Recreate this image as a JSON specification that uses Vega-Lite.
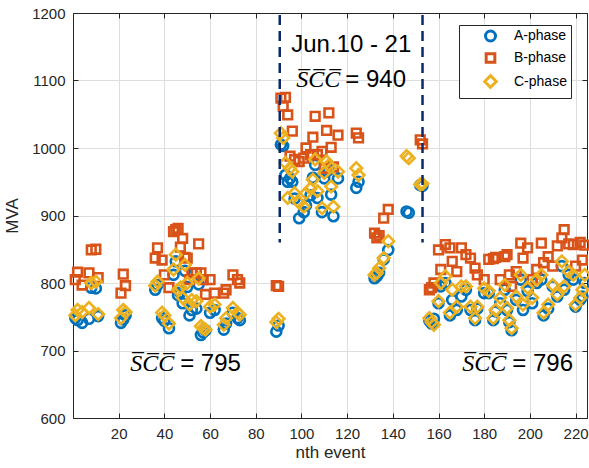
{
  "$schema": "https://vega.github.io/schema/vega-lite/v6.json",
  "width": 514,
  "height": 405,
  "autosize": "none",
  "padding": {"left": 73, "top": 13, "right": 2, "bottom": 50},
  "background": "white",
  "config": {
    "font": "Liberation Sans",
    "view": {"stroke": "#262626", "strokeWidth": 1}
  },
  "layer": [
    {
      "data": {
        "values": [
          {"n": 1, "A-phase": 748, "B-phase": 805, "C-phase": 752},
          {"n": 2, "A-phase": 745, "B-phase": 816, "C-phase": 760},
          {"n": 4, "A-phase": 741, "B-phase": 797, "C-phase": 757},
          {"n": 7, "A-phase": 747, "B-phase": 815, "C-phase": 763},
          {"n": 8, "A-phase": 793, "B-phase": 849, "C-phase": 800},
          {"n": 10, "A-phase": 792, "B-phase": 850, "C-phase": 802},
          {"n": 11, "A-phase": 751, "B-phase": 808, "C-phase": 754},
          {"n": 21, "A-phase": 741, "B-phase": 785, "C-phase": 748},
          {"n": 22, "A-phase": 746, "B-phase": 813, "C-phase": 760},
          {"n": 23, "A-phase": 752, "B-phase": 796, "C-phase": 757},
          {"n": 36, "A-phase": 790, "B-phase": 837, "C-phase": 796},
          {"n": 37, "A-phase": 797, "B-phase": 852, "C-phase": 802},
          {"n": 39, "A-phase": 748, "B-phase": 834, "C-phase": 756},
          {"n": 40, "A-phase": 744, "B-phase": 812, "C-phase": 752},
          {"n": 42, "A-phase": 733, "B-phase": 793, "C-phase": 740},
          {"n": 44, "A-phase": 812, "B-phase": 876, "C-phase": 820},
          {"n": 45, "A-phase": 832, "B-phase": 879, "C-phase": 842},
          {"n": 46, "A-phase": 782, "B-phase": 881, "C-phase": 790},
          {"n": 47, "A-phase": 786, "B-phase": 853, "C-phase": 793},
          {"n": 48, "A-phase": 770, "B-phase": 866, "C-phase": 778},
          {"n": 49, "A-phase": 818, "B-phase": 838, "C-phase": 827},
          {"n": 50, "A-phase": 794, "B-phase": 837, "C-phase": 800},
          {"n": 51, "A-phase": 752, "B-phase": 805, "C-phase": 768},
          {"n": 52, "A-phase": 760, "B-phase": 815, "C-phase": 775},
          {"n": 54, "A-phase": 762, "B-phase": 815, "C-phase": 773},
          {"n": 55, "A-phase": 798, "B-phase": 858, "C-phase": 807},
          {"n": 56, "A-phase": 723, "B-phase": 815, "C-phase": 736},
          {"n": 57, "A-phase": 727, "B-phase": 805, "C-phase": 733},
          {"n": 58, "A-phase": 730, "B-phase": 783, "C-phase": 731},
          {"n": 60, "A-phase": 756, "B-phase": 805, "C-phase": 765},
          {"n": 62, "A-phase": 760, "B-phase": 785, "C-phase": 768},
          {"n": 66, "A-phase": 731, "B-phase": 785, "C-phase": 738},
          {"n": 67, "A-phase": 740, "B-phase": 790, "C-phase": 748},
          {"n": 70, "A-phase": 756, "B-phase": 812, "C-phase": 763},
          {"n": 72, "A-phase": 748, "B-phase": 805, "C-phase": 756},
          {"n": 73, "A-phase": 745, "B-phase": 800, "C-phase": 753},
          {"n": 89, "A-phase": 728, "B-phase": 796, "C-phase": 742},
          {"n": 90, "A-phase": 737, "B-phase": 795, "C-phase": 747},
          {"n": 91, "A-phase": 1005, "B-phase": 1074, "C-phase": 1022},
          {"n": 92, "A-phase": 1003, "B-phase": 1062, "C-phase": 1015},
          {"n": 93, "A-phase": 960, "B-phase": 1075, "C-phase": 978},
          {"n": 94, "A-phase": 950, "B-phase": 1049, "C-phase": 926},
          {"n": 95, "A-phase": 955, "B-phase": 988, "C-phase": 970},
          {"n": 96, "A-phase": 950, "B-phase": 1025, "C-phase": 965},
          {"n": 97, "A-phase": 925, "B-phase": 983, "C-phase": 933},
          {"n": 99, "A-phase": 896, "B-phase": 980, "C-phase": 919},
          {"n": 101, "A-phase": 905, "B-phase": 985, "C-phase": 913},
          {"n": 102, "A-phase": 915, "B-phase": 1000, "C-phase": 933},
          {"n": 104, "A-phase": 930, "B-phase": 990, "C-phase": 940},
          {"n": 105, "A-phase": 956, "B-phase": 1016, "C-phase": 953},
          {"n": 106, "A-phase": 975, "B-phase": 1047, "C-phase": 983},
          {"n": 107, "A-phase": 926, "B-phase": 990, "C-phase": 936},
          {"n": 109, "A-phase": 905, "B-phase": 995, "C-phase": 911},
          {"n": 110, "A-phase": 955, "B-phase": 970, "C-phase": 963},
          {"n": 111, "A-phase": 965, "B-phase": 1026, "C-phase": 980},
          {"n": 112, "A-phase": 968, "B-phase": 1052, "C-phase": 975},
          {"n": 113, "A-phase": 931, "B-phase": 1001, "C-phase": 943},
          {"n": 114, "A-phase": 899, "B-phase": 972, "C-phase": 913},
          {"n": 116, "A-phase": 955, "B-phase": 1019, "C-phase": 965},
          {"n": 124, "A-phase": 941, "B-phase": 1022, "C-phase": 970},
          {"n": 125, "A-phase": 950, "B-phase": 1015, "C-phase": 960},
          {"n": 132, "A-phase": 807, "B-phase": 874, "C-phase": 812},
          {"n": 133, "A-phase": 810, "B-phase": 867, "C-phase": 815},
          {"n": 134, "A-phase": 815, "B-phase": 870, "C-phase": 822},
          {"n": 136, "A-phase": 835, "B-phase": 896, "C-phase": 837},
          {"n": 138, "A-phase": 849, "B-phase": 909, "C-phase": 862},
          {"n": 146, "A-phase": 906, "B-phase": null, "C-phase": 988},
          {"n": 147, "A-phase": 904, "B-phase": null, "C-phase": 985},
          {"n": 152, "A-phase": 945, "B-phase": 1012, "C-phase": 946},
          {"n": 153, "A-phase": 944, "B-phase": 1006, "C-phase": 947},
          {"n": 156, "A-phase": 744, "B-phase": 790, "C-phase": 748},
          {"n": 157, "A-phase": 740, "B-phase": 793, "C-phase": 742},
          {"n": 158, "A-phase": 747, "B-phase": 800, "C-phase": 738},
          {"n": 160, "A-phase": 770, "B-phase": 849, "C-phase": 773},
          {"n": 161, "A-phase": 795, "B-phase": 820, "C-phase": 800},
          {"n": 163, "A-phase": 800, "B-phase": 857, "C-phase": 810},
          {"n": 165, "A-phase": 752, "B-phase": 852, "C-phase": 756},
          {"n": 166, "A-phase": 775, "B-phase": 832, "C-phase": 790},
          {"n": 168, "A-phase": 760, "B-phase": 817, "C-phase": 765},
          {"n": 170, "A-phase": 780, "B-phase": 852, "C-phase": 795},
          {"n": 172, "A-phase": 790, "B-phase": 842, "C-phase": 795},
          {"n": 174, "A-phase": 760, "B-phase": 837, "C-phase": 765},
          {"n": 176, "A-phase": 745, "B-phase": 822, "C-phase": 748},
          {"n": 177, "A-phase": 762, "B-phase": 812, "C-phase": 765},
          {"n": 180, "A-phase": 785, "B-phase": 805, "C-phase": 792},
          {"n": 182, "A-phase": 785, "B-phase": 835, "C-phase": 788},
          {"n": 184, "A-phase": 745, "B-phase": 836, "C-phase": 748},
          {"n": 185, "A-phase": 758, "B-phase": 838, "C-phase": 760},
          {"n": 187, "A-phase": 770, "B-phase": 805, "C-phase": 778},
          {"n": 189, "A-phase": 790, "B-phase": 839, "C-phase": 797},
          {"n": 190, "A-phase": 760, "B-phase": 842, "C-phase": 763},
          {"n": 191, "A-phase": 742, "B-phase": 812, "C-phase": 745},
          {"n": 192, "A-phase": 730, "B-phase": 795, "C-phase": 733},
          {"n": 194, "A-phase": 775, "B-phase": 817, "C-phase": 780},
          {"n": 196, "A-phase": 805, "B-phase": 859, "C-phase": 812},
          {"n": 197, "A-phase": 760, "B-phase": 837, "C-phase": 768},
          {"n": 199, "A-phase": 788, "B-phase": 852, "C-phase": 793},
          {"n": 201, "A-phase": 770, "B-phase": 805, "C-phase": 778},
          {"n": 203, "A-phase": 800, "B-phase": 820, "C-phase": 805},
          {"n": 205, "A-phase": 805, "B-phase": 859, "C-phase": 812},
          {"n": 206, "A-phase": 752, "B-phase": 830, "C-phase": 756},
          {"n": 208, "A-phase": 762, "B-phase": 839, "C-phase": 768},
          {"n": 210, "A-phase": 795, "B-phase": 825, "C-phase": 797},
          {"n": 212, "A-phase": 780, "B-phase": 855, "C-phase": 783},
          {"n": 214, "A-phase": 825, "B-phase": 867, "C-phase": 832},
          {"n": 215, "A-phase": 790, "B-phase": 879, "C-phase": 795},
          {"n": 217, "A-phase": 812, "B-phase": 858, "C-phase": 817},
          {"n": 219, "A-phase": 805, "B-phase": 857, "C-phase": 812},
          {"n": 220, "A-phase": 765, "B-phase": 825, "C-phase": 768},
          {"n": 222, "A-phase": 775, "B-phase": 860, "C-phase": 778},
          {"n": 223, "A-phase": 780, "B-phase": 834, "C-phase": 790},
          {"n": 224, "A-phase": 800, "B-phase": 856, "C-phase": 812}
        ]
      },
      "transform": [
        {"fold": ["A-phase", "B-phase", "C-phase"], "as": ["phase", "MVA"]},
        {"filter": "datum.MVA != null"}
      ],
      "mark": {"type": "point", "filled": false, "strokeWidth": 2.6, "opacity": 1},
      "encoding": {
        "x": {
          "field": "n",
          "type": "quantitative",
          "scale": {"domain": [0, 225], "nice": false, "zero": false},
          "axis": {
            "orient": "bottom",
            "title": "nth event",
            "values": [20, 40, 60, 80, 100, 120, 140, 160, 180, 200, 220],
            "grid": true,
            "gridColor": "#dedede",
            "domainColor": "#262626",
            "tickColor": "#262626",
            "tickSize": -5,
            "labelPadding": 13,
            "labelFontSize": 15,
            "labelColor": "#262626",
            "titleFontSize": 17,
            "titleFontWeight": "normal",
            "titleColor": "#262626",
            "titlePadding": 3
          }
        },
        "y": {
          "field": "MVA",
          "type": "quantitative",
          "scale": {"domain": [600, 1200], "nice": false, "zero": false},
          "axis": {
            "orient": "left",
            "title": "MVA",
            "format": "d",
            "values": [600, 700, 800, 900, 1000, 1100, 1200],
            "grid": true,
            "gridColor": "#dedede",
            "domainColor": "#262626",
            "tickColor": "#262626",
            "tickSize": -5,
            "labelPadding": 13,
            "labelFontSize": 15,
            "labelColor": "#262626",
            "titleFontSize": 17,
            "titleFontWeight": "normal",
            "titleColor": "#262626",
            "titlePadding": 10
          }
        },
        "color": {
          "field": "phase",
          "type": "nominal",
          "scale": {"domain": ["A-phase", "B-phase", "C-phase"], "range": ["#0072BD", "#D95319", "#EDB120"]},
          "legend": {
            "orient": "none",
            "legendX": 386,
            "legendY": 12,
            "title": null,
            "strokeColor": "#262626",
            "fillColor": "white",
            "padding": 4,
            "labelFontSize": 14,
            "labelColor": "#000000",
            "symbolSize": 90,
            "symbolStrokeWidth": 3,
            "rowPadding": 0,
            "symbolOffset": 20,
            "labelOffset": 16
          }
        },
        "shape": {
          "field": "phase",
          "type": "nominal",
          "scale": {"domain": ["A-phase", "B-phase", "C-phase"], "range": ["circle", "square", "diamond"]},
          "legend": {
            "orient": "none",
            "legendX": 386,
            "legendY": 12,
            "title": null,
            "strokeColor": "#262626",
            "fillColor": "white",
            "padding": 4,
            "labelFontSize": 14,
            "labelColor": "#000000",
            "symbolSize": 90,
            "symbolStrokeWidth": 3,
            "rowPadding": 0,
            "symbolOffset": 20,
            "labelOffset": 16
          }
        },
        "size": {
          "field": "phase",
          "type": "nominal",
          "scale": {"type": "ordinal", "domain": ["A-phase", "B-phase", "C-phase"], "range": [100, 75, 135]},
          "legend": null
        },
        "order": {"field": "phase", "sort": "ascending"}
      }
    },
    {
      "data": {"values": [{"n": 90.5}, {"n": 153}]},
      "mark": {"type": "rule", "color": "#0b2a6b", "strokeWidth": 2.5, "strokeDash": [10, 6]},
      "encoding": {
        "x": {
          "field": "n",
          "type": "quantitative",
          "axis": {"orient": "top", "title": null, "labels": false, "grid": false, "values": [20, 40, 60, 80, 100, 120, 140, 160, 180, 200, 220], "tickSize": -5, "tickColor": "#262626", "domainColor": "#262626"}
        },
        "y": {
          "datum": 1197,
          "type": "quantitative",
          "axis": {"orient": "right", "title": null, "labels": false, "grid": false, "values": [600, 700, 800, 900, 1000, 1100, 1200], "tickSize": -5, "tickColor": "#262626", "domainColor": "#262626"}
        },
        "y2": {"datum": 860}
      }
    },
    {
      "data": {"values": [{}]},
      "mark": {"type": "text", "font": "Liberation Sans", "fontSize": 24, "align": "center", "baseline": "middle", "color": "#000000"},
      "encoding": {
        "x": {"datum": 121.8, "type": "quantitative", "axis": null},
        "y": {"datum": 1153, "type": "quantitative", "axis": null},
        "text": {"value": "Jun.10 - 21"}
      }
    },
    {
      "data": {"values": [{"n": 117, "v": 1101}, {"n": 44.3, "v": 680.5}, {"n": 189.7, "v": 680.5}]},
      "mark": {"type": "text", "font": "Liberation Serif", "fontStyle": "italic", "fontSize": 24, "align": "right", "baseline": "middle", "color": "#000000"},
      "encoding": {
        "x": {"field": "n", "type": "quantitative", "axis": null},
        "y": {"field": "v", "type": "quantitative", "axis": null},
        "text": {"value": "S̅C̅C̅"}
      }
    },
    {
      "data": {"values": [{"n": 119.2, "v": 1101, "t": "= 940"}, {"n": 46.9, "v": 680.5, "t": "= 795"}, {"n": 192.3, "v": 680.5, "t": "= 796"}]},
      "mark": {"type": "text", "font": "Liberation Sans", "fontSize": 24, "align": "left", "baseline": "middle", "color": "#000000"},
      "encoding": {
        "x": {"field": "n", "type": "quantitative", "axis": null},
        "y": {"field": "v", "type": "quantitative", "axis": null},
        "text": {"field": "t", "type": "nominal"}
      }
    }
  ],
  "resolve": {"axis": {"x": "independent", "y": "independent"}}
}
